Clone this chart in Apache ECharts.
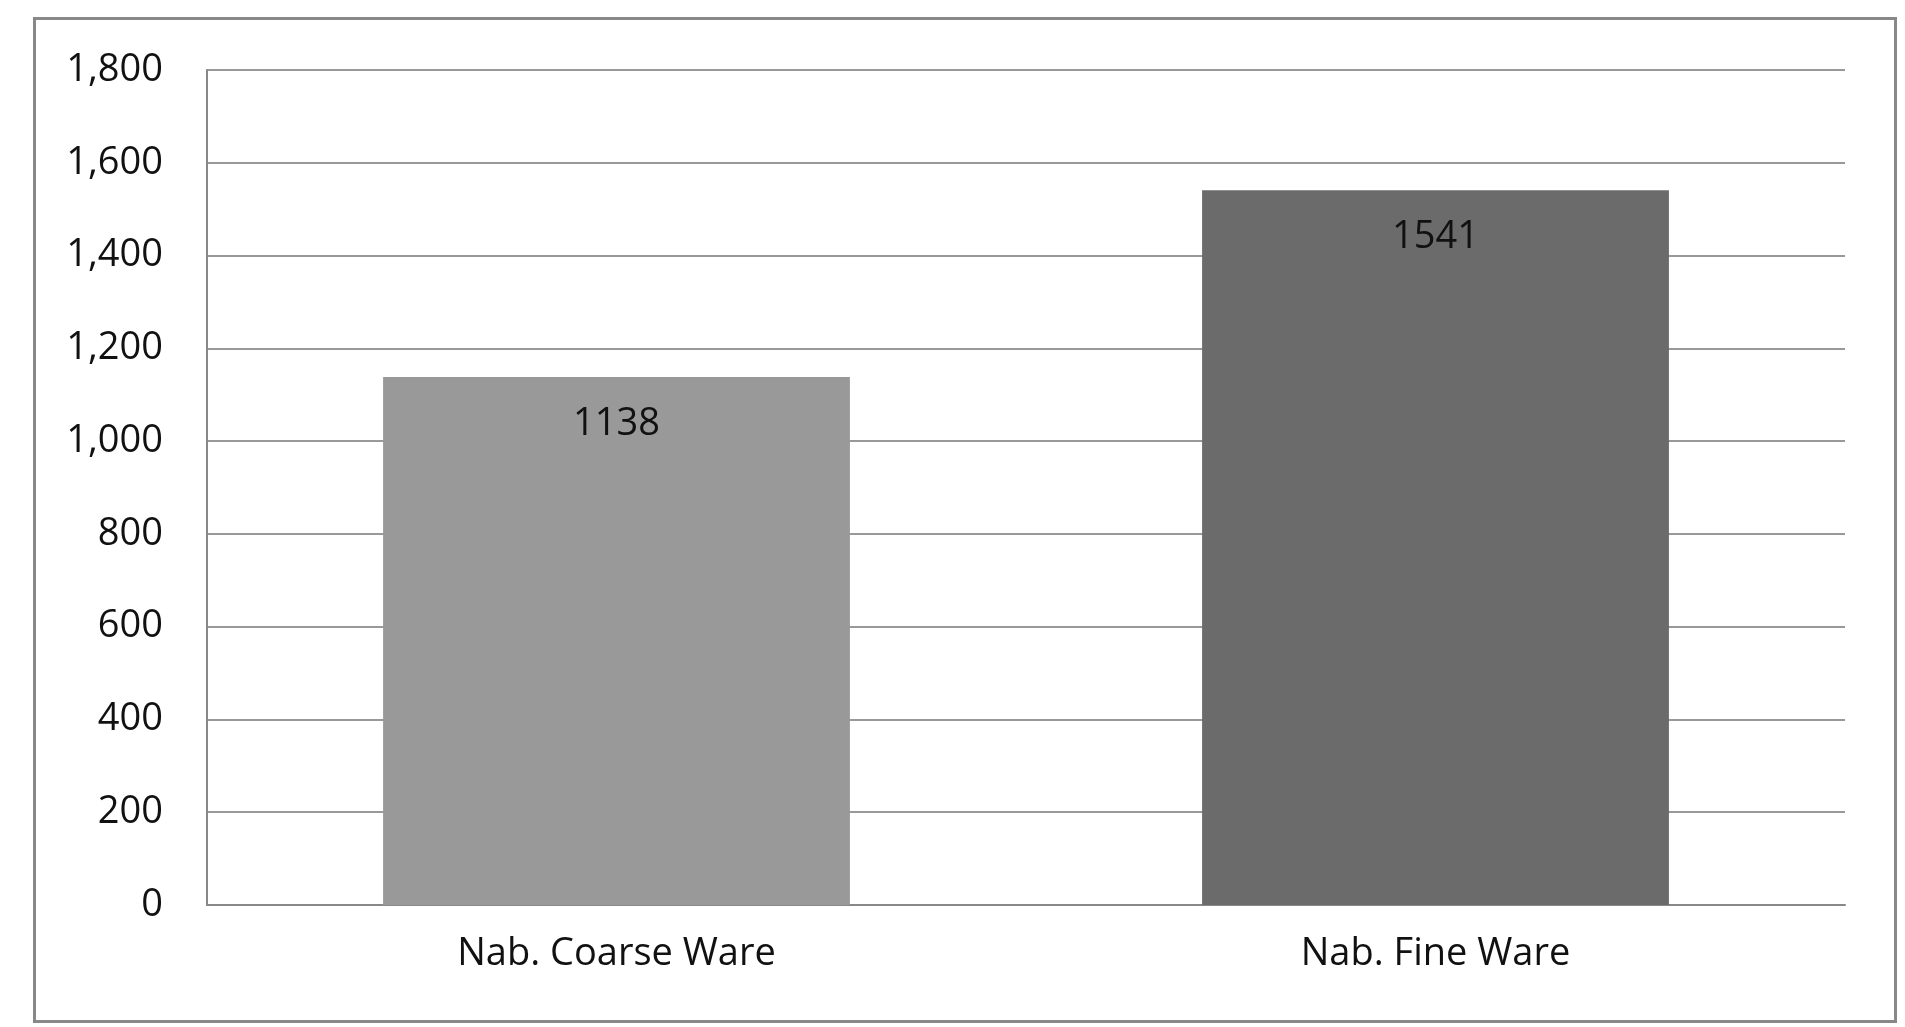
<!DOCTYPE html>
<html><head><meta charset="utf-8">
<script src="https://cdn.jsdelivr.net/npm/echarts@6/dist/echarts.min.js"></script>
<style>html,body{margin:0;padding:0;background:#fff}#c{width:1905px;height:1027px}
#f{position:absolute;left:33px;top:17px;width:1864px;height:1006px;border:3px solid #888;box-sizing:border-box;pointer-events:none}</style>
</head><body><div id="c"></div><div id="f"></div>
<script>
const categories=["Nab. Coarse Ware","Nab. Fine Ware"];
const values=[1138,1541];
const colors=["#999999","#6b6b6b"];
const chart=echarts.init(document.getElementById('c'));
chart.setOption({
  animation:false,
  grid:{left:207,right:60,top:70,bottom:122},
  xAxis:{type:'category',data:categories,
    axisLine:{lineStyle:{color:'#888',width:2}},axisTick:{show:false},
    axisLabel:{color:'#111',fontSize:38,fontFamily:'Open Sans',margin:30}},
  yAxis:{type:'value',min:0,max:1800,interval:200,
    axisLine:{show:true,lineStyle:{color:'#888',width:2}},axisTick:{show:false},
    splitLine:{lineStyle:{color:'#999',width:2}},
    axisLabel:{color:'#111',fontSize:38,fontFamily:'Open Sans',margin:44}},
  series:[{type:'bar',barWidth:'57%',
    data:values.map((v,i)=>({value:v,itemStyle:{color:colors[i]}})),
    label:{show:true,position:'insideTop',distance:28,color:'#111',fontSize:38,fontFamily:'Open Sans'}}]
});
</script></body></html>
